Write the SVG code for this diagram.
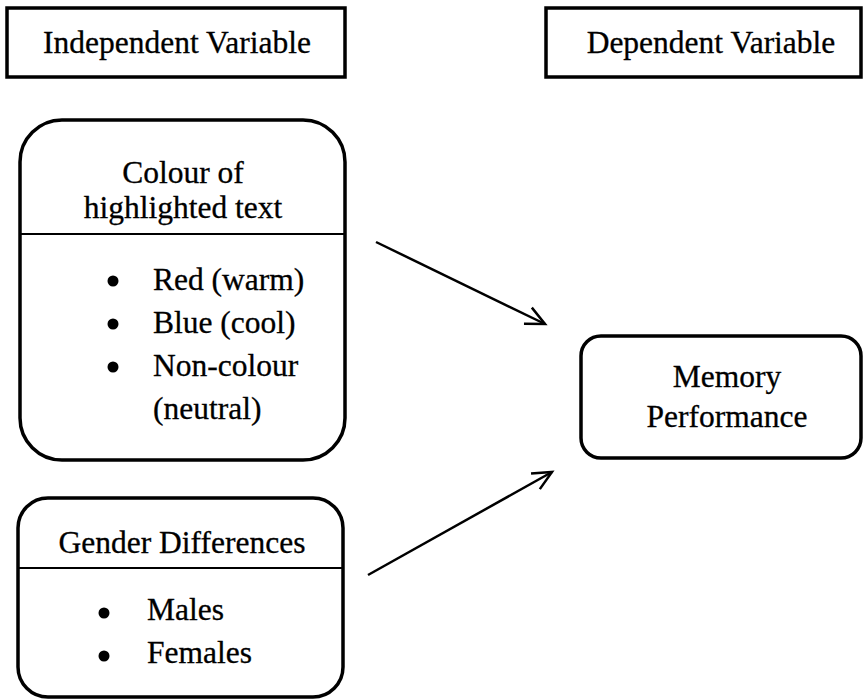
<svg xmlns="http://www.w3.org/2000/svg" width="865" height="700" viewBox="0 0 865 700">
<style>
.box{fill:#fff;stroke:#000;stroke-width:3.5}
.div{stroke:#000;stroke-width:2}
.t{font-family:"Liberation Serif","Times New Roman",serif;font-size:31.5px;fill:#000;stroke:#000;stroke-width:0.3}
.c{text-anchor:middle}
.conn{stroke:#000;stroke-width:2.5;fill:none}
</style>
<defs>
<marker id="ah" viewBox="-22 -12 26 24" markerWidth="26" markerHeight="24" refX="0" refY="0" orient="auto" markerUnits="userSpaceOnUse">
<path d="M-19,-9 L0,0 L-19,9" fill="none" stroke="#000" stroke-width="2.5" stroke-linejoin="miter"/>
</marker>
</defs>
<rect width="865" height="700" fill="#fff"/>
<g id="independent-label">
<rect class="box" x="7" y="8" width="338" height="69"/>
<text class="t c" x="177" y="53">Independent Variable</text>
</g>
<g id="dependent-label">
<rect class="box" x="546" y="8" width="315" height="69"/>
<text class="t c" x="711" y="53">Dependent Variable</text>
</g>
<g id="colour-node">
<rect class="box" x="20" y="120" width="325" height="340" rx="42" ry="42"/>
<line class="div" x1="21" y1="234" x2="344" y2="234"/>
<text class="t c" x="183" y="183">Colour of</text>
<text class="t c" x="183" y="218">highlighted text</text>
<circle cx="113" cy="281" r="5.5"/>
<circle cx="113" cy="324" r="5.5"/>
<circle cx="113" cy="367" r="5.5"/>
<text class="t" x="153" y="290">Red (warm)</text>
<text class="t" x="153" y="333">Blue (cool)</text>
<text class="t" x="153" y="376">Non-colour</text>
<text class="t" x="153" y="419">(neutral)</text>
</g>
<g id="gender-node">
<rect class="box" x="18" y="498" width="325" height="199" rx="30" ry="30"/>
<line class="div" x1="19" y1="568" x2="342" y2="568"/>
<text class="t c" x="182" y="553">Gender Differences</text>
<circle cx="104" cy="613" r="5.5"/>
<circle cx="104" cy="656" r="5.5"/>
<text class="t" x="147" y="620">Males</text>
<text class="t" x="147" y="663">Females</text>
</g>
<g id="memory-node">
<rect class="box" x="581" y="336" width="280" height="122" rx="20" ry="20"/>
<text class="t c" x="727" y="387">Memory</text>
<text class="t c" x="727" y="427">Performance</text>
</g>
<g id="connectors">
<line class="conn" x1="376" y1="242" x2="545" y2="324" marker-end="url(#ah)"/>
<line class="conn" x1="368" y1="575" x2="552" y2="472" marker-end="url(#ah)"/>
</g>
</svg>
